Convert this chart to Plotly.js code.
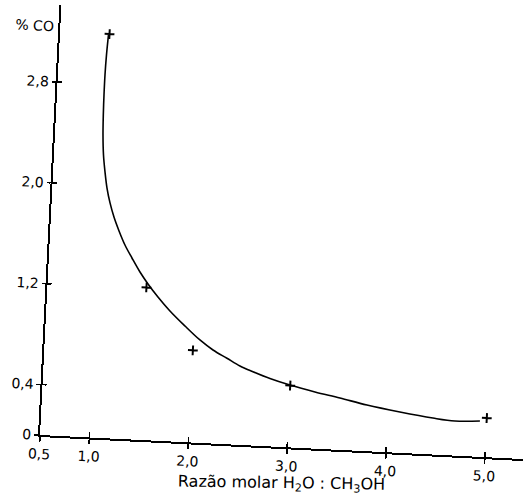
<!DOCTYPE html>
<html>
<head>
<meta charset="utf-8">
<script src="https://cdn.plot.ly/plotly-3.0.1.min.js"></script>
<style>
  html, body { margin: 0; padding: 0; background: #ffffff; overflow: hidden; width: 524px; height: 500px; }
  #chart { position: absolute; left: -40px; top: 0; width: 564px; height: 500px; transform: rotate(2.85deg); transform-origin: 80px 435px; }
</style>
</head>
<body>
<div id="chart"></div>
<script>
// Fitted (hand-drawn) curve
const curveX = [0.990, 0.980, 0.975, 0.975, 0.978, 0.985, 1.000, 1.024, 1.052, 1.090, 1.137, 1.195, 1.262, 1.339, 1.427, 1.514, 1.621, 1.749, 1.908, 2.066, 2.203, 2.348, 2.483, 2.617, 2.792, 2.997, 3.253, 3.508, 3.784, 4.120, 4.456, 4.680, 4.932];
const curveY = [3.193, 3.034, 2.875, 2.716, 2.558, 2.399, 2.241, 2.107, 1.981, 1.864, 1.754, 1.646, 1.537, 1.437, 1.329, 1.238, 1.139, 1.033, 0.920, 0.815, 0.741, 0.681, 0.625, 0.585, 0.538, 0.494, 0.449, 0.411, 0.366, 0.324, 0.289, 0.274, 0.284];
// Experimental points (+)
const pointX = [1.0, 1.5, 2.0, 3.0, 5.0];
const pointY = [3.2, 1.21, 0.73, 0.49, 0.31];
// Tick labels
const xTickVals = [0.5, 1, 2, 3, 4, 5];
const xTickText = ["0,5", "1,0", "2,0", "3,0", "4,0", "5,0"];
const yTickVals = [0, 0.4, 1.2, 2.0, 2.8];
const yTickText = ["0", "0,4", "1,2", "2,0", "2,8"];
const yTitle = "% CO";
const xTitle = "Razão molar H<sub>2</sub>O : CH<sub>3</sub>OH";

const xRange = [0.5, 5.39];
const yRange = [0, 3.407];
const FONT = "DejaVu Sans, sans-serif";

const traces = [
  {
    x: curveX, y: curveY, type: "scatter", mode: "lines",
    line: { color: "#000", width: 1.6, shape: "spline", smoothing: 1 },
    hoverinfo: "skip", showlegend: false
  },
  {
    x: pointX, y: pointY, type: "scatter", mode: "markers",
    xaxis: "x2", yaxis: "y2",
    marker: { symbol: "cross-thin", size: 7, line: { color: "#000", width: 2 } },
    showlegend: false
  }
];

const layout = {
  width: 564, height: 500,
  margin: { l: 80, r: 0, t: 5, b: 65 },
  paper_bgcolor: "#fff", plot_bgcolor: "rgba(0,0,0,0)",
  font: { family: FONT, size: 14, color: "#000" },
  showlegend: false,
  xaxis: {
    range: xRange, tickmode: "array", tickvals: xTickVals, ticktext: xTickText,
    ticks: "outside", ticklen: 5, tickwidth: 1.6, tickcolor: "#000",
    showline: true, linecolor: "#000", linewidth: 2,
    showgrid: false, zeroline: false, anchor: "y",
    tickfont: { family: FONT, size: 14, color: "#000" }
  },
  yaxis: {
    range: yRange, tickmode: "array", tickvals: yTickVals, ticktext: yTickText,
    ticks: "outside", ticklen: 4, tickwidth: 1.6, tickcolor: "#000",
    showline: true, linecolor: "#000", linewidth: 2,
    showgrid: false, zeroline: false, anchor: "x",
    tickfont: { family: FONT, size: 14, color: "#000" }
  },
  xaxis2: {
    range: xRange, overlaying: "x", anchor: "y2", side: "bottom",
    tickmode: "array", tickvals: [1, 2, 3, 4, 5],
    ticks: "inside", ticklen: 5, tickwidth: 1.6, tickcolor: "#000",
    showticklabels: false, showline: false, showgrid: false, zeroline: false
  },
  yaxis2: {
    range: yRange, overlaying: "y", anchor: "x2", side: "left",
    tickmode: "array", tickvals: yTickVals,
    ticks: "inside", ticklen: 4, tickwidth: 1.6, tickcolor: "#000",
    showticklabels: false, showline: false, showgrid: false, zeroline: false
  },
  annotations: [
    {
      text: yTitle, xref: "paper", yref: "y", x: 0, y: 3.24,
      xanchor: "right", yanchor: "middle", xshift: -4, showarrow: false,
      font: { family: FONT, size: 14, color: "#000" }
    },
    {
      text: xTitle, xref: "x", yref: "paper", x: 2.96, y: 0,
      xanchor: "center", yanchor: "middle", yshift: -36, showarrow: false,
      textangle: -2,
      font: { family: FONT, size: 16, color: "#000" }
    }
  ]
};

Plotly.newPlot("chart", traces, layout, { displayModeBar: false, staticPlot: true });
</script>
</body>
</html>
